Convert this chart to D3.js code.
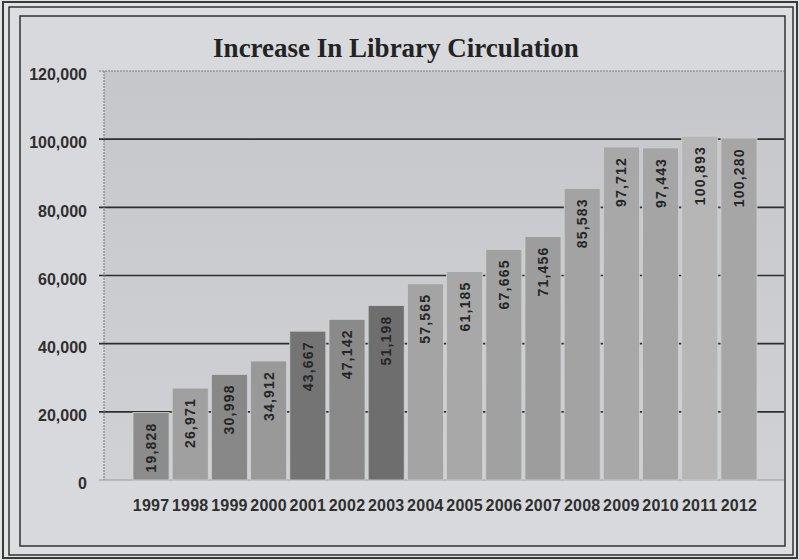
<!DOCTYPE html>
<html>
<head>
<meta charset="utf-8">
<script src="https://cdn.jsdelivr.net/npm/d3@7"></script>
<style>
  body { margin: 0; background: #dfe1e4; }
  svg { display: block; }
</style>
</head>
<body>
<div id="chart"></div>
<script>
// Data
const years = ["1997", "1998", "1999", "2000", "2001", "2002", "2003", "2004",
               "2005", "2006", "2007", "2008", "2009", "2010", "2011", "2012"];
const circulation = [19828, 26971, 30998, 34912, 43667, 47142, 51198, 57565,
                     61185, 67665, 71456, 85583, 97712, 97443, 100893, 100280];
const yTicks = [0, 20000, 40000, 60000, 80000, 100000, 120000];

// grey shades of each bar (style only)
const barShades = ["#8c8c8c", "#a0a0a0", "#888888", "#999999", "#747474", "#8a8a8a",
                   "#6e6e6e", "#a4a4a4", "#a8a8a8", "#a1a1a1", "#9d9d9d", "#a3a3a3",
                   "#a8a8a8", "#a5a5a5", "#b6b6b6", "#a6a6a6"];

const data = years.map((y, i) => ({ year: y, value: circulation[i] }));

const W = 799, H = 560;
const plot = { left: 104, right: 784, top: 71, bottom: 480 };

const svg = d3.select("#chart").append("svg")
  .attr("width", W)
  .attr("height", H);

const defs = svg.append("defs");
const grad = defs.append("linearGradient")
  .attr("id", "plotBg").attr("x1", 0).attr("y1", 0).attr("x2", 0).attr("y2", 1);
grad.append("stop").attr("offset", "0%").attr("stop-color", "#c5c7ca");
grad.append("stop").attr("offset", "100%").attr("stop-color", "#cfd1d4");

// Frames
svg.append("rect").attr("x", 0).attr("y", 0).attr("width", W).attr("height", H)
  .attr("fill", "#e1e3e5");
svg.append("rect").attr("x", 3).attr("y", 2).attr("width", 794).attr("height", 556)
  .attr("fill", "none").attr("stroke", "#3a3a3a").attr("stroke-width", 2);
svg.append("rect").attr("x", 9).attr("y", 7).attr("width", 784).attr("height", 548)
  .attr("fill", "#dcdee1").attr("stroke", "#333").attr("stroke-width", 1.5);
svg.append("rect").attr("x", 20).attr("y", 16).attr("width", 765).attr("height", 530)
  .attr("fill", "#d7d9dc").attr("stroke", "#333").attr("stroke-width", 1.5);

// Plot area
svg.append("rect")
  .attr("x", plot.left).attr("y", plot.top)
  .attr("width", plot.right - plot.left).attr("height", plot.bottom - plot.top)
  .attr("fill", "url(#plotBg)");

// Scales
const x = d3.scaleBand()
  .domain(years)
  .range([133, 757])
  .paddingInner(0.08)
  .paddingOuter(0);

const y = d3.scaleLinear()
  .domain([0, 120000])
  .range([plot.bottom, plot.top]);

// Gridlines (behind bars)
svg.append("g").selectAll("line")
  .data(yTicks)
  .enter().append("line")
    .attr("x1", plot.left - 5)
    .attr("x2", plot.right)
    .attr("y1", d => y(d))
    .attr("y2", d => y(d))
    .attr("stroke", d => (d === 0 ? "#9a9a9a" : d === 120000 ? "#7a7a7a" : "#2e2e2e"))
    .attr("stroke-width", d => (d === 0 || d === 120000 ? 1 : 1.6))
    .attr("stroke-dasharray", d => (d === 120000 ? "2,1" : null));

// left axis line
svg.append("line")
  .attr("x1", plot.left).attr("x2", plot.left)
  .attr("y1", plot.top).attr("y2", plot.bottom)
  .attr("stroke", "#777").attr("stroke-width", 1).attr("stroke-dasharray", "2,1");

// Y axis labels
const yAxis = svg.append("g")
  .attr("transform", `translate(${plot.left},0)`)
  .call(d3.axisLeft(y).tickValues(yTicks).tickFormat(d3.format(",")).tickSize(0).tickPadding(17));
yAxis.select(".domain").remove();
yAxis.selectAll("text")
  .attr("dy", "0.55em")
  .attr("fill", "#2f2f2f")
  .style("font-family", "'Liberation Sans', Arial, sans-serif")
  .style("font-weight", "bold")
  .style("font-size", "16px");

// Bars
svg.append("g").selectAll("rect")
  .data(data)
  .enter().append("rect")
    .attr("x", d => x(d.year))
    .attr("y", d => y(d.value))
    .attr("width", x.bandwidth())
    .attr("height", d => y(0) - y(d.value))
    .attr("fill", (d, i) => barShades[i])
    .attr("stroke", "#cfd0d2")
    .attr("stroke-width", 0.8);

// Value labels inside bars, rotated
svg.append("g").selectAll("text")
  .data(data)
  .enter().append("text")
    .attr("transform", d => `translate(${x(d.year) + x.bandwidth() / 2},${y(d.value) + 10}) rotate(-90)`)
    .attr("text-anchor", "end")
    .attr("dy", "0.36em")
    .attr("fill", "#262626")
    .style("font-family", "'Liberation Sans', Arial, sans-serif")
    .style("font-weight", "bold")
    .style("font-size", "14px")
    .style("letter-spacing", "1.2px")
    .text(d => d3.format(",")(d.value));

// X axis labels
const xAxis = svg.append("g")
  .attr("transform", `translate(0,${plot.bottom})`)
  .call(d3.axisBottom(x).tickSize(0).tickPadding(20));
xAxis.select(".domain").remove();
xAxis.selectAll("text")
  .attr("fill", "#2f2f2f")
  .style("font-family", "'Liberation Sans', Arial, sans-serif")
  .style("font-weight", "bold")
  .style("font-size", "16px")
  .style("letter-spacing", "0.25px");

// Title
svg.append("text")
  .attr("x", 396)
  .attr("y", 57)
  .attr("text-anchor", "middle")
  .attr("fill", "#232323")
  .style("font-family", "'Liberation Serif', 'Times New Roman', serif")
  .style("font-weight", "bold")
  .style("font-size", "27px")
  .text("Increase In Library Circulation");
</script>
</body>
</html>
